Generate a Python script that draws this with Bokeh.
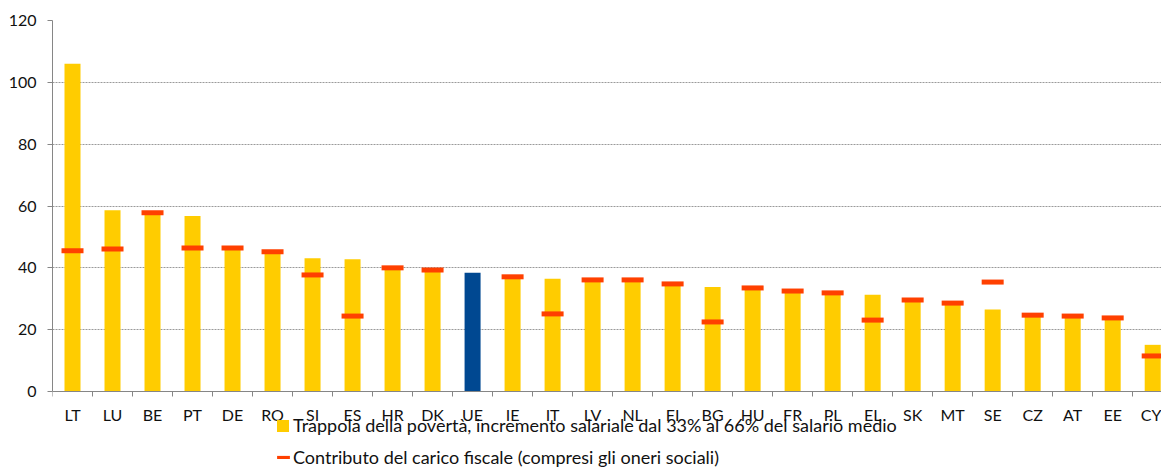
import numpy as np
from bokeh.plotting import figure
from bokeh.models import (Range1d, FixedTicker, Legend, LegendItem, ColumnDataSource)
from bokeh.embed import file_html
from bokeh.resources import INLINE

# ---- data ----
countries = ["LT", "LU", "BE", "PT", "DE", "RO", "SI", "ES", "HR", "DK", "UE", "IE", "IT", "LV",
             "NL", "FI", "BG", "HU", "FR", "PL", "EL", "SK", "MT", "SE", "CZ", "AT", "EE", "CY"]
poverty_trap = [106.0, 58.6, 57.4, 56.8, 46.0, 44.8, 43.1, 42.8, 39.6, 38.9, 38.4, 36.7, 36.5, 35.7,
                35.7, 34.4, 33.8, 33.1, 32.1, 31.5, 31.3, 29.2, 28.2, 26.5, 24.3, 24.0, 23.4, 15.1]
tax_burden = [45.5, 46.1, 57.8, 46.4, 46.4, 45.2, 37.7, 24.4, 40.0, 39.3, None, 37.1, 25.1, 36.1,
              36.1, 34.8, 22.5, 33.5, 32.5, 31.9, 23.1, 29.6, 28.6, 35.4, 24.7, 24.4, 23.8, 11.5]
y_ticks = [0, 20, 40, 60, 80, 100, 120]

label_bar = "Trappola della povertà, incremento salariale dal 33% al 66% del salario medio"
label_tax = "Contributo del carico fiscale (compresi gli oneri sociali)"

YELLOW = "#FFCC00"
BLUE = "#004891"
RED = "#FF4000"
FONT = "Lato"

n = len(countries)
xs = np.arange(n) + 0.5
bar_colors = [BLUE if c == "UE" else YELLOW for c in countries]

bar_src = ColumnDataSource(dict(x=xs, top=poverty_trap, color=bar_colors))
tax_x = [x for x, t in zip(xs, tax_burden) if t is not None]
tax_y = [t for t in tax_burden if t is not None]
tax_src = ColumnDataSource(dict(x=tax_x, y=tax_y))

# frame spans the full height; the x axis is pinned at y = 0 so the legend fits below it
p = figure(width=1161, height=468, output_backend="svg", toolbar_location=None,
           x_range=Range1d(0, 27.72), y_range=Range1d(-24.9, 120),
           min_border_left=52, min_border_right=0, min_border_top=20, min_border_bottom=0)
p.outline_line_color = None
p.background_fill_color = "white"

bars = p.vbar(x="x", top="top", width=0.4, fill_color="color", line_color=None, source=bar_src)
marks = p.rect(x="x", y="y", width=0.55, height=5, height_units="screen",
               fill_color=RED, line_color=None, source=tax_src)

# axes
p.xgrid.visible = False
p.ygrid.ticker = FixedTicker(ticks=[t for t in y_ticks if t > 0])
p.ygrid.grid_line_color = "#9a9a9a"
p.ygrid.grid_line_dash = "2 1"
p.ygrid.grid_line_width = 1

p.yaxis.ticker = FixedTicker(ticks=y_ticks)
p.yaxis.bounds = (0, 120)
p.xaxis.ticker = FixedTicker(ticks=list(xs), minor_ticks=list(np.arange(n + 1)))
p.xaxis.major_label_overrides = {float(x): c for x, c in zip(xs, countries)}
p.xaxis.fixed_location = 0

for ax in (p.xaxis[0], p.yaxis[0]):
    ax.axis_line_color = "#868686"
    ax.major_tick_line_color = "#868686"
    ax.minor_tick_line_color = "#868686"
    ax.major_label_text_font = FONT
    ax.major_label_text_font_size = "16px"
    ax.major_label_text_color = "#111111"

p.xaxis.major_tick_out = 0
p.xaxis.major_tick_in = 0
p.xaxis.minor_tick_out = 5
p.xaxis.minor_tick_in = 0
p.xaxis.major_label_standoff = 8
p.yaxis.major_tick_out = 5
p.yaxis.major_tick_in = 0
p.yaxis.minor_tick_out = 0
p.yaxis.minor_tick_in = 0
p.yaxis.major_label_standoff = 11

# legends
leg1 = Legend(items=[LegendItem(label=label_bar, renderers=[bars], index=0)],
              location=(223, 31), orientation="vertical",
              glyph_width=15, glyph_height=15, label_height=24, label_standoff=3,
              padding=0, margin=0, spacing=0,
              border_line_color=None, background_fill_alpha=0,
              label_text_font=FONT, label_text_font_size="18px", label_text_color="#111111")
leg2 = Legend(items=[LegendItem(label=label_tax, renderers=[marks])],
              location=(223, -0.5), orientation="vertical",
              glyph_width=16, glyph_height=4, label_height=24, label_standoff=2,
              padding=0, margin=0, spacing=0,
              border_line_color=None, background_fill_alpha=0,
              label_text_font=FONT, label_text_font_size="18px", label_text_color="#111111")
p.add_layout(leg1, "center")
p.add_layout(leg2, "center")

open("out.html", "w").write(file_html(p, INLINE))
